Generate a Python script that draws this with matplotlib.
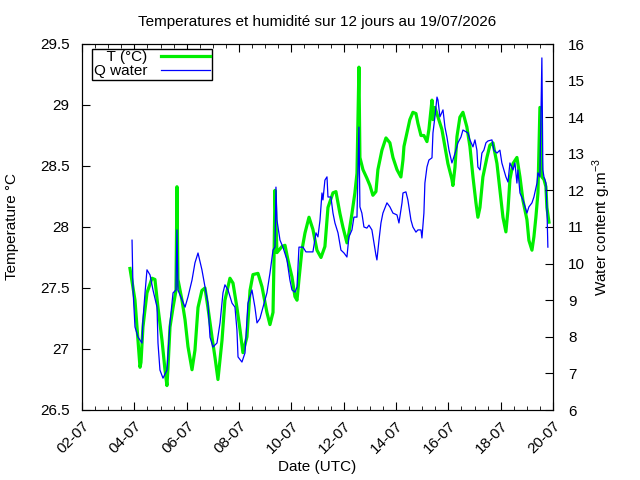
import matplotlib
matplotlib.use('Agg')
import matplotlib.pyplot as plt
import matplotlib.dates as mdates
import numpy
import pandas

plt.rcParams['font.family'] = ['Liberation Sans', 'DejaVu Sans']
plt.rcParams['font.size'] = 11
plt.rcParams['mathtext.fontset'] = 'custom'
plt.rcParams['mathtext.rm'] = 'Liberation Sans'

# hours since 02-07 00:00 UTC, temperature in degC
t_hours = [44.0, 48.6, 51.4, 53.2, 54.1, 55.9, 59.6, 64.2, 66.9, 69.7, 73.4, 76.1, 77.9, 78.9,
           80.7, 83.5, 86.2, 87.1, 88.0, 91.7, 94.5, 97.2, 100.9, 103.6, 106.4, 110.0, 112.8,
           115.5, 119.2, 122.0, 124.7, 128.4, 131.1, 135.7, 138.5, 142.1, 144.9, 147.6, 151.3,
           154.1, 156.8, 161.4, 165.1, 169.6, 172.4, 175.2, 176.1, 177.0, 178.8, 183.4, 186.2,
           188.9, 192.6, 195.3, 197.2, 199.0, 201.7, 204.5, 208.2, 211.8, 215.5, 219.2, 222.8,
           225.6, 230.2, 232.9, 236.6, 239.3, 243.0, 244.8, 247.6, 250.3, 252.2, 254.0, 254.9,
           257.7, 261.3, 264.1, 266.8, 269.6, 271.4, 275.1, 278.8, 282.4, 285.2, 288.9, 292.5,
           294.4, 295.3, 298.0, 300.7, 303.5, 306.3, 308.1, 310.9, 313.6, 316.4, 318.2, 321.0,
           321.9, 323.7, 326.5, 330.1, 332.9, 335.6, 339.3, 340.2, 342.1, 343.9, 346.6, 349.4,
           353.0, 355.8, 358.6, 361.3, 363.1, 365.0, 367.7, 371.4, 374.1, 376.9, 380.6, 383.3,
           386.1, 388.8, 390.7, 392.5, 395.3, 398.9, 401.7, 404.4, 408.1, 409.9, 412.7, 414.5,
           416.3, 418.2, 420.0, 421.8, 423.7, 425.5, 426.4, 428.3]
temp = [27.66, 27.40, 27.07, 26.85, 26.89, 27.18, 27.46, 27.58, 27.57, 27.34, 27.07, 26.83, 26.70, 26.85,
        27.18, 27.34, 27.48, 28.33, 27.57, 27.40, 27.24, 27.02, 26.83, 26.99, 27.34, 27.48, 27.50,
        27.34, 27.10, 26.93, 26.75, 27.07, 27.40, 27.58, 27.54, 27.34, 27.16, 26.97, 27.10,
        27.48, 27.61, 27.62, 27.51, 27.30, 27.20, 27.30, 27.73, 28.30, 27.79, 27.84, 27.85,
        27.73, 27.59, 27.43, 27.40, 27.57, 27.81, 27.95, 28.08, 27.98, 27.81, 27.75, 27.84,
        28.16, 28.28, 28.29, 28.11, 28.00, 27.87, 27.95, 28.11, 28.28, 28.44, 29.31, 28.57,
        28.47, 28.40, 28.34, 28.26, 28.29, 28.47, 28.63, 28.73, 28.69, 28.57, 28.47, 28.41,
        28.55, 28.66, 28.77, 28.88, 28.94, 28.93, 28.85, 28.75, 28.75, 28.70, 28.80, 29.04,
        28.88, 28.98, 28.90, 28.80, 28.66, 28.52, 28.39, 28.34, 28.49, 28.74, 28.90, 28.94,
        28.82, 28.66, 28.41, 28.20, 28.08, 28.16, 28.41, 28.57, 28.67, 28.69, 28.52, 28.30,
        28.08, 27.96, 28.14, 28.39, 28.52, 28.57, 28.41, 28.22, 28.06, 27.89, 27.81, 27.92,
        28.08, 28.28, 28.98, 28.41, 28.39, 28.33, 28.16, 28.04]

# hours since 02-07 00:00 UTC, water content in g/m3
q_hours = [45.9, 46.8, 48.6, 51.4, 55.0, 55.9, 57.8, 59.6, 62.4, 65.1, 68.8, 69.7, 71.5, 74.3,
           77.9, 80.7, 83.5, 86.2, 87.1, 88.0, 91.7, 94.5, 97.2, 100.9, 103.6, 106.4, 110.0,
           112.8, 115.5, 117.4, 120.1, 123.8, 126.6, 129.3, 131.1, 133.9, 137.6, 140.3, 142.1,
           143.1, 146.7, 149.5, 152.2, 155.9, 158.6, 160.5, 163.2, 166.0, 169.6, 172.4, 175.2,
           177.0, 177.9, 178.8, 181.6, 184.3, 188.0, 190.7, 192.6, 195.3, 197.2, 199.0, 202.7,
           205.4, 208.2, 211.8, 214.6, 216.4, 218.3, 220.1, 221.0, 222.8, 224.7, 225.6, 228.3,
           230.2, 232.0, 234.8, 237.5, 240.3, 243.0, 244.8, 247.6, 249.4, 252.2, 254.0, 254.9,
           256.7, 258.6, 261.3, 263.2, 265.9, 267.8, 269.6, 270.5, 272.4, 274.2, 276.0, 279.7,
           282.4, 285.2, 288.9, 290.7, 293.5, 294.4, 297.1, 298.9, 299.9, 301.7, 303.5, 306.3,
           308.1, 310.9, 311.8, 313.6, 314.5, 316.4, 318.2, 321.0, 321.9, 323.7, 325.6, 326.5,
           328.3, 331.1, 332.9, 334.7, 336.6, 339.3, 340.2, 343.0, 344.8, 347.6, 349.4, 352.2,
           354.0, 355.8, 358.6, 360.4, 362.2, 363.1, 365.0, 366.8, 368.6, 370.5, 372.3, 376.0,
           377.8, 380.6, 383.3, 385.1, 387.0, 388.8, 390.7, 392.5, 395.3, 397.1, 398.9, 399.8,
           401.7, 404.4, 406.3, 408.1, 409.9, 412.7, 414.5, 417.3, 418.2, 420.0, 421.8, 422.7,
           423.7, 425.5, 426.4, 427.3]
qwater = [10.64, 9.28, 8.27, 7.99, 7.83, 8.46, 9.20, 9.83, 9.69, 9.28, 8.81, 7.83, 7.09, 6.87,
          7.09, 8.38, 9.20, 9.28, 10.92, 9.28, 9.01, 8.81, 9.09, 9.55, 10.02, 10.29, 9.83,
          9.36, 8.92, 7.99, 7.72, 7.83, 8.38, 9.20, 9.42, 9.28, 8.92, 8.81, 8.19,
          7.45, 7.31, 7.56, 8.92, 9.28, 8.81, 8.38, 8.50, 8.81, 9.20, 9.74, 10.37,
          10.45, 12.09, 11.19, 10.64, 10.45, 10.10, 9.55, 9.28, 9.22, 9.36, 10.45, 10.45,
          10.32, 10.32, 10.32, 10.84, 10.73, 11.19, 11.93, 11.74, 12.28, 12.37, 11.82, 11.82,
          11.38, 11.11, 10.84, 10.37, 10.29, 10.18, 10.73, 10.92, 11.27, 11.27, 13.73, 11.55,
          11.38, 11.00, 10.97, 11.05, 10.92, 10.56, 10.23, 10.10, 10.64, 11.11, 11.38, 11.66,
          11.55, 11.38, 11.33, 11.11, 11.66, 11.93, 11.96, 11.74, 11.55, 11.19, 11.00, 10.86,
          10.92, 10.92, 10.70, 11.38, 12.20, 12.64, 12.83, 12.89, 13.57, 14.01, 14.55, 14.47,
          14.01, 14.20, 13.73, 13.46, 13.10, 12.75, 12.83, 13.10, 13.30, 13.46, 13.65, 13.60,
          13.57, 13.38, 13.19, 13.38, 13.10, 12.64, 12.56, 13.02, 13.10, 13.30, 13.35, 13.38,
          13.10, 13.02, 13.10, 12.75, 12.56, 12.37, 12.23, 12.75, 12.56, 12.75, 12.20, 12.56,
          11.93, 11.74, 11.55, 11.38, 11.55, 11.66, 11.82, 12.20, 12.48, 12.37, 15.62, 12.56,
          12.37, 12.20, 11.55, 10.45]

start = pandas.Timestamp('2026-07-02 00:00')
t_dates = start + pandas.to_timedelta(t_hours, unit='h')
q_dates = start + pandas.to_timedelta(q_hours, unit='h')

fig = plt.figure(figsize=(6.4, 4.8), dpi=100)
ax = fig.add_axes([82/640, 1 - 410/480, 471/640, 366/480])
ax2 = ax.twinx()

lt, = ax.plot(t_dates, temp, color='#00ee00', linewidth=2.3, label='T (°C)')
lq, = ax2.plot(q_dates, qwater, color='#0000ff', linewidth=0.9, label='Q water')

ax.set_xlim(pandas.Timestamp('2026-07-02'), pandas.Timestamp('2026-07-20'))
ax.set_ylim(26.5, 29.5)
ax2.set_ylim(6, 16)
ax.set_yticks(numpy.arange(26.5, 29.51, 0.5))
ax.set_yticklabels(['26.5', '27', '27.5', '28', '28.5', '29', '29.5'])
ax2.set_yticks(numpy.arange(6, 17, 1))

ax.xaxis.set_major_locator(mdates.DayLocator(bymonthday=range(2, 32, 2)))
ax.xaxis.set_minor_locator(mdates.HourLocator(byhour=[0, 12]))
ax.xaxis.set_major_formatter(mdates.DateFormatter('%d-%m'))
plt.setp(ax.get_xticklabels(), rotation=45, ha='right', rotation_mode='anchor')

ax.tick_params(axis='x', which='both', direction='in', top=True, pad=6)
ax.tick_params(axis='x', which='major', length=6)
ax.tick_params(axis='x', which='minor', length=3)
ax.tick_params(axis='y', direction='in', length=6, right=False, pad=9)
ax2.tick_params(axis='y', direction='in', length=6, left=False, pad=11)

ax.set_xlabel('Date (UTC)', labelpad=3)
ax.set_ylabel('Temperature °C', labelpad=15)
ax2.set_ylabel('Water content g.m$^{-3}$', labelpad=4)
ax.set_title('Temperatures et humidité sur 12 jours au 19/07/2026', pad=13, fontsize=11)

ax.legend([lt, lq], ['\u00a0\u00a0T (°C)', 'Q water'], loc='upper left',
          bbox_to_anchor=(0.022, 0.987), borderaxespad=0, markerfirst=False,
          fancybox=False, edgecolor='black', framealpha=1, handlelength=3.2,
          labelspacing=0.0, borderpad=0.1, handletextpad=0.9)

fig.savefig('out.png', dpi=100)
